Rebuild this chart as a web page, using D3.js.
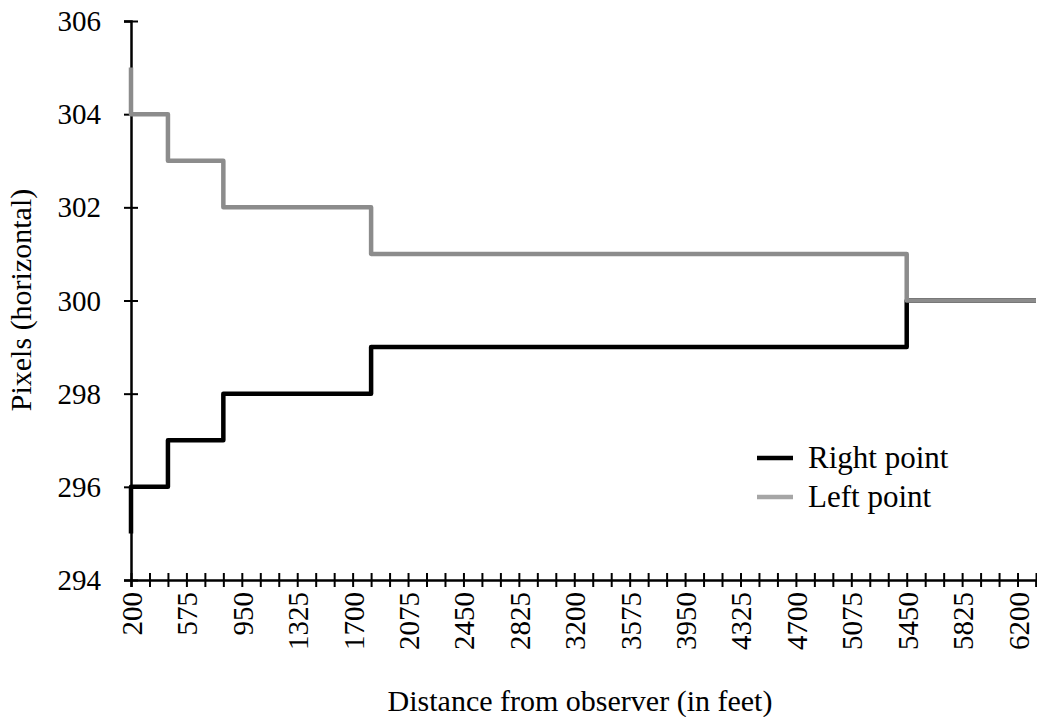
<!DOCTYPE html>
<html>
<head>
<meta charset="utf-8">
<script src="https://cdn.jsdelivr.net/npm/d3@7"></script>
<style>
  body { margin: 0; background: #fff; }
  text { font-family: "Liberation Serif", "Times New Roman", serif; }
</style>
</head>
<body>
<div id="chart"></div>
<script>
// step points (distance in feet, pixel position)
var distances  = [200, 200, 450, 450, 825, 825, 1825, 1825, 5450, 5450, 6325];
var rightPoint = [295, 296, 296, 297, 297, 298, 298, 299, 299, 300, 300];
var leftPoint  = [305, 304, 304, 303, 303, 302, 302, 301, 301, 300, 300];

var xTickLabels = [200, 575, 950, 1325, 1700, 2075, 2450, 2825, 3200, 3575, 3950, 4325, 4700, 5075, 5450, 5825, 6200];
var yTicks = [294, 296, 298, 300, 302, 304, 306];
var seriesNames = ["Right point", "Left point"];

var W = 1037, H = 717;
var fs = "29px";
var svg = d3.select("#chart").append("svg")
    .attr("width", W)
    .attr("height", H);

var x = d3.scaleLinear().domain([200, 6325]).range([131, 1036]);
var y = d3.scaleLinear().domain([294, 306]).range([580, 21]);

// minor ticks every 125 ft, labels every 375
var xMinor = d3.range(200, 6326, 125);

// X axis
var xAxis = svg.append("g")
    .attr("transform", "translate(0," + y(294) + ")")
    .call(d3.axisBottom(x).tickValues(xMinor).tickSize(7).tickFormat(""));
xAxis.select(".domain").attr("stroke", "#000").attr("stroke-width", 2.5);
xAxis.selectAll(".tick line").attr("stroke", "#000").attr("stroke-width", 2).attr("y1", -7);

svg.append("g").selectAll("text")
  .data(xTickLabels)
  .enter()
  .append("text")
    .attr("transform", function (d) { return "translate(" + (x(d) + 11) + "," + 592 + ") rotate(-90)"; })
    .attr("text-anchor", "end")
    .style("font-size", fs)
    .text(function (d) { return d; });

// Y axis
var yAxis = svg.append("g")
    .attr("transform", "translate(" + x(200) + ",0)")
    .call(d3.axisLeft(y).tickValues(yTicks).tickSize(7).tickFormat(""));
yAxis.select(".domain").attr("stroke", "#000").attr("stroke-width", 2.5);
yAxis.selectAll(".tick line").attr("stroke", "#000").attr("stroke-width", 2).attr("x1", 7).attr("x2", -7);

svg.append("g").selectAll("text")
  .data(yTicks)
  .enter()
  .append("text")
    .attr("x", 101)
    .attr("y", function (d) { return y(d) + 10; })
    .attr("text-anchor", "end")
    .style("font-size", fs)
    .text(function (d) { return d; });

// axis titles
svg.append("text")
    .attr("transform", "translate(31,300) rotate(-90)")
    .attr("text-anchor", "middle")
    .style("font-size", "30px")
    .text("Pixels (horizontal)");

svg.append("text")
    .attr("x", 580)
    .attr("y", 711)
    .attr("text-anchor", "middle")
    .style("font-size", "30px")
    .text("Distance from observer (in feet)");

// lines
var line = d3.line()
    .x(function (d) { return x(d[0]); })
    .y(function (d) { return y(d[1]); });

var series = [
  { name: seriesNames[0], values: rightPoint, color: "#000000", legend: "#000000" },
  { name: seriesNames[1], values: leftPoint,  color: "#8c8c8c", legend: "#a6a6a6" }
];

svg.append("g").selectAll("path")
  .data(series)
  .enter()
  .append("path")
    .attr("d", function (s) { return line(distances.map(function (d, i) { return [d, s.values[i]]; })); })
    .attr("fill", "none")
    .attr("stroke", function (s) { return s.color; })
    .attr("stroke-width", 4.5)
    .attr("stroke-linejoin", "round");

// legend
var legend = svg.append("g").selectAll("g")
  .data(series)
  .enter()
  .append("g")
    .attr("transform", function (s, i) { return "translate(757," + (458 + i * 39) + ")"; });

legend.append("line")
    .attr("x1", 0).attr("x2", 36)
    .attr("stroke", function (s) { return s.legend; })
    .attr("stroke-width", 4.5);

legend.append("text")
    .attr("x", 51)
    .attr("y", 10)
    .style("font-size", "31px")
    .text(function (s) { return s.name; });
</script>
</body>
</html>
